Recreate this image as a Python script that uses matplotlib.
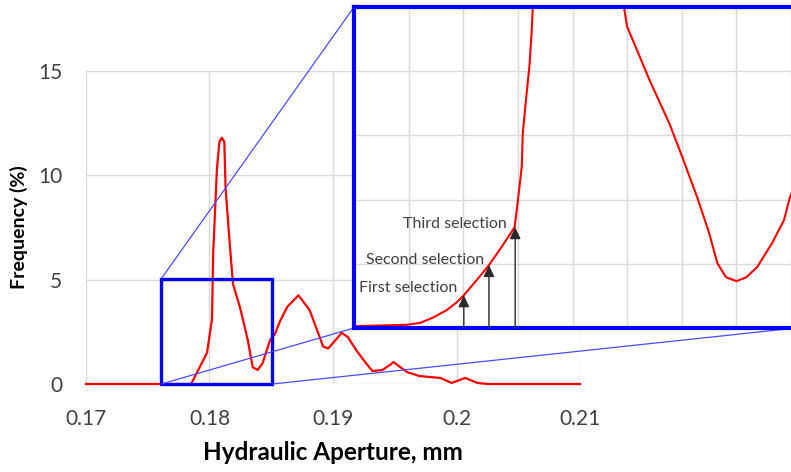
import matplotlib

matplotlib.use("Agg")
import matplotlib.pyplot as plt
import numpy as np
from matplotlib.patches import ConnectionPatch, Rectangle

plt.rcParams["font.family"] = ["Lato", "DejaVu Sans"]

# main curve (hydraulic aperture, mm -> frequency %)
aperture = [
    0.1700, 0.1785, 0.1786, 0.1798, 0.1802, 0.1803, 0.1806, 0.1808, 0.1810,
    0.1812, 0.1813, 0.1816, 0.1819, 0.1825, 0.1831, 0.1835, 0.1839, 0.1843,
    0.1849, 0.1853, 0.1857, 0.1863, 0.1872, 0.1881, 0.1887, 0.1892, 0.1896,
    0.1902, 0.1907, 0.1912, 0.1919, 0.1928, 0.1932, 0.1940, 0.1946, 0.1949,
    0.1960, 0.1970, 0.1987, 0.1996, 0.2007, 0.2017, 0.2025, 0.2100,
]
frequency = [
    0.0, 0.0, 0.1, 1.5, 3.1, 6.3, 10.3, 11.6, 11.8,
    11.6, 9.4, 7.0, 4.8, 3.6, 2.1, 0.8, 0.67, 1.0,
    2.1, 2.4, 3.0, 3.7, 4.25, 3.55, 2.6, 1.8, 1.7,
    2.1, 2.45, 2.25, 1.6, 0.9, 0.62, 0.67, 0.91, 1.05,
    0.57, 0.38, 0.29, 0.05, 0.29, 0.05, 0.0, 0.0,
]

# zoomed detail shown in the inset
zoom_aperture = [
    0.17605, 0.17697, 0.17721, 0.17744, 0.17770, 0.17788, 0.17801, 0.17825,
    0.17847, 0.17870, 0.17894, 0.17900, 0.17907, 0.17909, 0.17916, 0.17921,
    0.17925, 0.17927, 0.1793, 0.1809, 0.18095, 0.18100, 0.18110, 0.18141,
    0.18177, 0.18201, 0.18228, 0.18250, 0.18265, 0.18281, 0.18300, 0.18318,
    0.18338, 0.18365, 0.18387, 0.18398, 0.18410,
]
zoom_frequency = [
    0.03, 0.05, 0.08, 0.16, 0.28, 0.40, 0.51, 0.75,
    0.98, 1.26, 1.57, 1.99, 2.51, 3.04, 3.66, 4.07,
    4.60, 4.95, 5.6, 5.6, 4.95, 4.69, 4.49, 3.86,
    3.19, 2.66, 2.04, 1.48, 1.01, 0.79, 0.73, 0.79,
    0.95, 1.32, 1.68, 2.04, 2.3,
]

zoom_box = (0.1761, 0.1851, 0.0, 5.05)

selections = ["First selection", "Second selection", "Third selection"]
selection_x = [0.17801, 0.17847, 0.17895]
selection_y = [0.51, 0.98, 1.57]
label_x = [0.17789, 0.17838, 0.17880]
label_y = [0.63, 1.06, 1.62]

W, H = 791, 472
fig = plt.figure(figsize=(W / 100, H / 100), dpi=100)

ax = fig.add_axes([86 / W, (H - 384) / H, (580 - 86) / W, (384 - 71) / H])
ax.plot(aperture, frequency, color="#ff0000", lw=1.6, clip_on=False, zorder=3)
ax.set_xlim(0.17, 0.21)
ax.set_ylim(0, 15)
ax.set_xticks([0.17, 0.18, 0.19, 0.20, 0.21])
ax.set_xticklabels(["0.17", "0.18", "0.19", "0.2", "0.21"])
ax.set_yticks([0, 5, 10, 15])
for s in ax.spines.values():
    s.set_visible(False)
ax.grid(True, color="#d9d9d9", lw=1)
ax.set_axisbelow(True)
ax.tick_params(length=0, labelsize=15, labelcolor="#404040")
ax.tick_params(axis="y", pad=17)
ax.tick_params(axis="x", pad=18)
ax.set_xlabel("Hydraulic Aperture, mm", fontsize=17.5, fontweight="bold", labelpad=9)
ax.set_ylabel("Frequency (%)", fontsize=14, fontweight="bold", labelpad=7)

x0, x1, y0, y1 = zoom_box
ax.add_patch(Rectangle((x0, y0), x1 - x0, y1 - y0, fill=False, edgecolor="#0000ff",
                       lw=2.4, zorder=4, clip_on=False))

ins = fig.add_axes([354 / W, (H - 328) / H, (796 - 354) / W, (328 - 7) / H])
ins.set_zorder(5)
ins.plot(zoom_aperture, zoom_frequency, color="#ff0000", lw=1.5)
ins.set_xlim(0.176, 0.18409)
ins.set_ylim(0, 5)
ins.set_xticks(np.arange(0.176, 0.1845, 0.001))
ins.set_yticks([0, 1, 2, 3, 4, 5])
ins.tick_params(length=0, labelbottom=False, labelleft=False)
ins.grid(True, color="#d9d9d9", lw=1)
ins.set_axisbelow(True)
for s in ins.spines.values():
    s.set_color("#0000ff")
    s.set_linewidth(3)

for name, sx, sy, lx, ly in zip(selections, selection_x, selection_y, label_x, label_y):
    ins.annotate("", xy=(sx, sy), xytext=(sx, 0),
                 arrowprops=dict(arrowstyle="-|>,head_length=0.7,head_width=0.33",
                                 color="#2a2a2a", lw=1.0, shrinkA=0, shrinkB=0))
    ins.text(lx, ly, name, ha="right", va="center", fontsize=11.5, color="#404040")

for pa, pb in [((x0, y1), (0, 1)), ((x0, y0), (0, 0)), ((x1, y0), (1, 0))]:
    con = ConnectionPatch(xyA=pa, coordsA=ax.transData, xyB=pb, coordsB=ins.transAxes,
                          color="#4a4aff", lw=0.9)
    con.set_zorder(2)
    fig.add_artist(con)

fig.savefig("out.png", dpi=100)
